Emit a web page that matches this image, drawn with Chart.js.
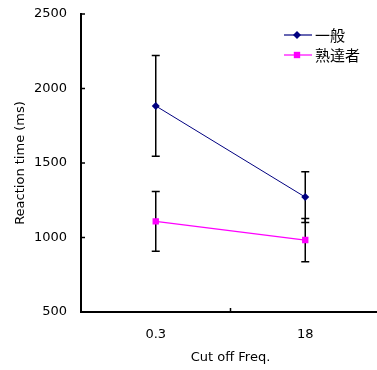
<!DOCTYPE html>
<html>
<head>
<meta charset="utf-8">
<script src="https://cdn.jsdelivr.net/npm/chart.js@4"></script>
<style>
  body { margin: 0; overflow: hidden; background: #fff; }
</style>
</head>
<body>
<canvas id="chartReaction" width="380" height="370"></canvas>
<script>
const categories = ["0.3", "18"];
const ippanValues = [1883, 1271];
const ippanErrors = [338, 170];
const jukutatsuValues = [1108, 983];
const jukutatsuErrors = [200, 145];
const yTicks = [500, 1000, 1500, 2000, 2500];

// error bars, drawn under the markers
const errorBars = {
  id: "errorBars",
  beforeDatasetsDraw(chart) {
    const { ctx, scales: { x, y } } = chart;
    ctx.save();
    ctx.strokeStyle = "#000";
    ctx.lineWidth = 1.5;
    chart.data.datasets.forEach((ds, i) => {
      ds.data.forEach((v, j) => {
        const px = x.getPixelForValue(j);
        const top = y.getPixelForValue(v + ds.errors[j]);
        const bot = y.getPixelForValue(v - ds.errors[j]);
        ctx.beginPath();
        ctx.moveTo(px, top);
        ctx.lineTo(px, bot);
        ctx.moveTo(px - 4, top);
        ctx.lineTo(px + 4, top);
        ctx.moveTo(px - 4, bot);
        ctx.lineTo(px + 4, bot);
        ctx.stroke();
      });
    });
    ctx.restore();
  },
};

// tick marks pointing into the plot + legend inside the plot
const insideTicks = {
  id: "insideTicks",
  afterDraw(chart) {
    const { ctx, chartArea, scales: { x, y } } = chart;
    ctx.save();
    ctx.strokeStyle = "#000";
    ctx.lineWidth = 1.5;
    ctx.beginPath();
    yTicks.forEach((t) => {
      const py = y.getPixelForValue(t);
      ctx.moveTo(chartArea.left, py);
      ctx.lineTo(chartArea.left + 4, py);
    });
    const mid = (x.getPixelForValue(0) + x.getPixelForValue(1)) / 2;
    ctx.moveTo(mid, chartArea.bottom);
    ctx.lineTo(mid, chartArea.bottom - 4);
    ctx.stroke();

    // legend
    const lx = 284;
    chart.data.datasets.forEach((ds, i) => {
      const ly = 35 + i * 20;
      ctx.strokeStyle = ds.borderColor;
      ctx.lineWidth = 1.2;
      ctx.beginPath();
      ctx.moveTo(lx, ly);
      ctx.lineTo(lx + 28, ly);
      ctx.stroke();
      ctx.fillStyle = ds.backgroundColor;
      Chart.helpers.drawPoint(ctx, {
        pointStyle: ds.pointStyle,
        radius: ds.pointRadius,
        borderWidth: 0,
      }, lx + 13, ly);
      ctx.fillStyle = "#000";
      ctx.font = "15px 'Noto Sans CJK JP'";
      ctx.textBaseline = "middle";
      ctx.fillText(ds.label, lx + 31, ly);
    });
    ctx.restore();
  },
};

function chartReaction() {
  const ctx = document.getElementById("chartReaction").getContext("2d");
  new Chart(ctx, {
    type: "line",
    data: {
      labels: categories,
      datasets: [
        {
          label: "一般",
          data: ippanValues,
          errors: ippanErrors,
          borderColor: "#000080",
          backgroundColor: "#000080",
          borderWidth: 1,
          pointStyle: "rectRot",
          pointRadius: 4,
          pointBorderWidth: 0,
        },
        {
          label: "熟達者",
          data: jukutatsuValues,
          errors: jukutatsuErrors,
          borderColor: "#ff00ff",
          backgroundColor: "#ff00ff",
          borderWidth: 1.2,
          pointStyle: "rect",
          pointRadius: 4.5,
          pointBorderWidth: 0,
        },
      ],
    },
    options: {
      responsive: false,
      animation: false,
      layout: { autoPadding: false, padding: { top: 14, right: 0, left: 0, bottom: 0 } },
      plugins: {
        legend: { display: false },
        tooltip: { enabled: false },
      },
      scales: {
        x: {
          offset: true,
          grid: { display: false, drawTicks: false },
          border: { color: "#000", width: 2 },
          ticks: {
            color: "#000",
            padding: 15,
            font: { family: "DejaVu Sans", size: 13 },
          },
          title: {
            display: true,
            text: "Cut off Freq.",
            color: "#000",
            font: { family: "DejaVu Sans", size: 13 },
            padding: { top: 0, bottom: 5 },
          },
          afterFit: (scale) => {
            scale.height = 58;
            scale.paddingLeft = 0;
            scale.paddingRight = 0;
          },
        },
        y: {
          min: 500,
          max: 2500,
          grid: { display: false, drawTicks: false },
          border: { color: "#000", width: 2 },
          ticks: {
            stepSize: 500,
            color: "#000",
            padding: 14,
            font: { family: "DejaVu Sans", size: 13 },
            callback: (v) => String(v),
          },
          title: {
            display: true,
            text: "Reaction time (ms)",
            color: "#000",
            font: { family: "DejaVu Sans", size: 13 },
            padding: { top: 13, bottom: 0 },
          },
          afterFit: (scale) => {
            scale.width = 81;
            scale.paddingTop = 0;
            scale.paddingBottom = 0;
          },
        },
      },
    },
    plugins: [errorBars, insideTicks],
  });
}

chartReaction();
</script>
</body>
</html>
